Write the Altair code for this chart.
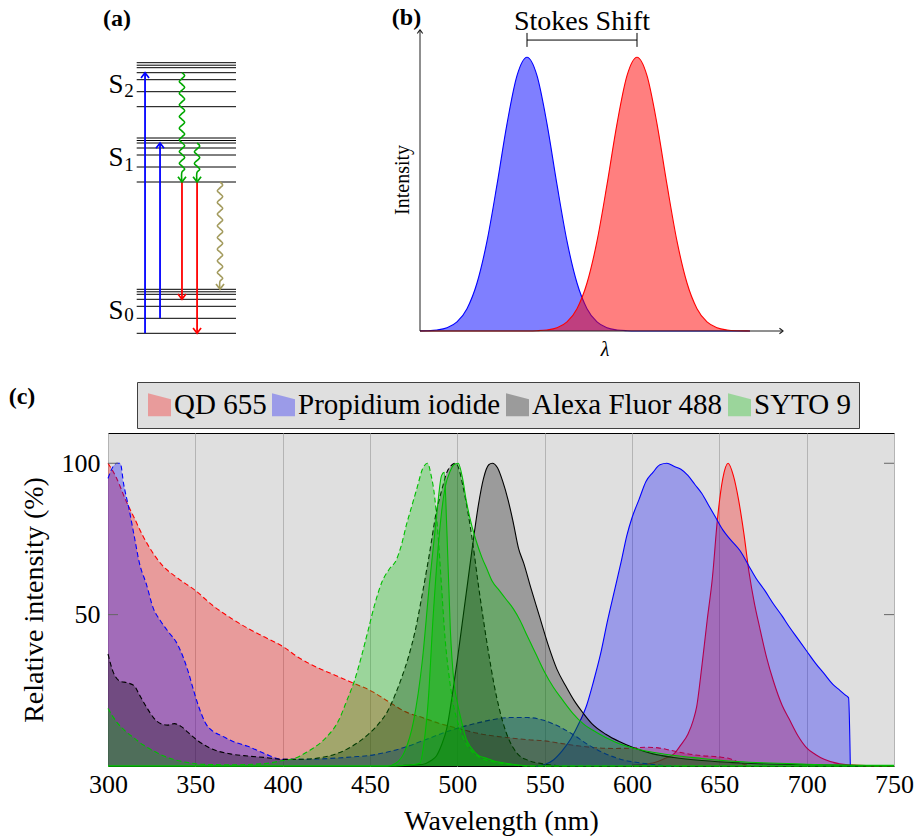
import altair as alt
import pandas as pd

SERIF = "Liberation Serif"

# ---------------- panel (c): spectra ----------------
dye_names = ["QD 655", "Propidium iodide", "Alexa Fluor 488", "SYTO 9"]
dye_colors = ["#ff0000", "#0000ff", "#000000", "#00bf00"]

qd_ex_wl = [300, 305, 310, 315, 320, 325, 330, 340, 350, 360, 370, 380, 390, 400, 410, 420, 430, 440, 450, 460,
            470, 480, 490, 500, 510, 520, 530, 540, 550, 560, 570, 580, 590, 600, 608, 615, 622, 630, 640, 650,
            656, 660, 664, 668]
qd_ex_val = [100, 95, 88, 82, 76, 71, 67, 62, 58, 53, 49, 45.5, 42.5, 39.5, 35.5, 32.5, 30, 27.5, 25, 21.5,
             18, 16, 14, 12.5, 11, 10, 9.3, 8.7, 8.3, 7.4, 6.6, 6.0, 5.8, 5.9, 6.2, 6.0, 5.2, 4.2, 3.4, 3.0,
             2.4, 1.5, 0.6, 0]

qd_em_wl = [600, 612, 620, 624, 628, 632, 635, 637, 640, 643, 646, 649, 652, 655, 658, 661, 664, 667, 670, 673,
            677, 681, 686, 690, 695, 700, 705, 710, 719, 730, 750]
qd_em_val = [0.3, 1, 2.8, 4, 7, 10.5, 15, 19.5, 33, 48, 62, 82, 95, 100, 96, 88, 77, 64, 54, 46,
             36, 28, 20, 15.5, 10, 6, 3.8, 2.2, 0.7, 0.2, 0]

pi_ex_wl = [300, 303, 305, 307, 309, 312, 315, 318, 322, 326, 330, 335, 339, 343, 346, 349, 352, 356, 360, 365,
            372, 380, 390, 400, 410, 420, 430, 440, 450, 460, 470, 480, 490, 500, 510, 520, 530, 540, 550, 560,
            566, 575, 585, 595, 605, 615, 625]
pi_ex_val = [95, 99, 100, 100, 93, 85, 76, 67, 60, 52, 48, 44, 41, 36, 31, 25, 19.5, 14, 11.5, 10,
             8, 6.5, 4, 2.2, 2.2, 2.3, 2.6, 3, 3.5, 4.6, 6.2, 8.3, 10.5, 12.5, 14, 15.3, 16, 16, 15, 12.5,
             10.5, 7, 4, 2, 1, 0.3, 0]

pi_em_wl = [545, 550, 555, 560, 565, 570, 574, 578, 582, 586, 590, 594, 597, 600, 604, 608, 612, 616, 620, 624,
            628, 632, 636, 640, 644, 648, 652, 656, 662, 667, 671, 676, 681, 686, 690, 695, 700, 705, 710, 715,
            719, 722, 724, 725]
pi_em_val = [0, 0.5, 2, 5, 9, 14.5, 20, 28, 37, 48, 58, 68, 76, 82, 88, 94, 97, 99.5, 100, 99,
             98, 96, 93, 90, 86, 82, 78, 75, 71, 66, 62, 58, 53.5, 49.5, 46, 42, 38, 34, 30.5, 27,
             25, 23.5, 22.5, 0]

af_ex_wl = [300, 303, 307, 311, 315, 318, 322, 326, 330, 334, 338, 342, 346, 350, 355, 360, 370, 380, 390, 400,
            410, 420, 430, 440, 450, 455, 460, 464, 468, 472, 476, 480, 484, 488, 491, 494, 497, 499, 501, 503,
            506, 509, 512, 515, 518, 521, 524, 528, 532, 536, 540, 549, 560]
af_ex_val = [37, 31, 28, 27.5, 26.5, 23.5, 19.5, 16, 14, 13.5, 14, 13, 11, 9, 7, 5.5, 4, 3.3, 2.8, 2.2,
             2.2, 2.6, 3.9, 6.6, 11, 14, 18, 23, 29, 36, 45, 57, 70, 84, 91, 97, 99.5, 100, 98, 93,
             84, 73, 60, 48, 37, 27, 19, 11, 6, 3.2, 2, 0.7, 0]

af_em_wl = [465, 470, 480, 485, 488, 491, 494, 497, 500, 503, 506, 509, 512, 515, 518, 520, 523, 526, 529, 532,
            535, 538, 542, 547, 552, 557, 562, 567, 572, 577, 585, 593, 601, 612, 624, 640, 662, 700, 750]
af_em_val = [0, 0.2, 0.5, 1.8, 3.3, 7, 12.5, 23, 35, 48, 61, 74, 86, 95, 99.5, 100, 98.5, 94, 88, 80.5,
             72, 67, 59, 49.5, 40, 32, 26.5, 21.5, 17.5, 14, 10.5, 8, 6, 4, 2.8, 1.8, 1, 0.4, 0]

sy_ex_wl = [300, 305, 310, 315, 320, 326, 332, 338, 345, 353, 370, 390, 400, 405, 415, 425, 432, 437, 441, 445,
            449, 453, 457, 461, 465, 468, 471, 474, 477, 480, 483, 485, 487, 489, 491, 493, 495, 497.5, 501, 506,
            513, 520, 530, 540, 750]
sy_ex_val = [19, 14.5, 11.5, 9.2, 7, 5, 3.3, 2.1, 1.2, 0.6, 0.4, 0.8, 1.8, 2.2, 5, 9.5, 15, 22, 28, 36,
             45, 54, 61, 65, 68, 73, 80, 86, 92, 98, 100, 96, 89, 76, 59, 42, 31, 21, 13, 6.6,
             2.8, 1.5, 0.5, 0, 0]

sy_em_wl = [300, 460, 470, 475, 478.6, 481, 483.4, 486, 489, 491, 493, 496, 498, 500.5, 503, 505, 508, 511, 514,
            517, 520, 524, 528, 532, 536, 540, 545, 550, 555, 560, 566, 572, 580, 590, 600, 620, 640, 660, 700, 750]
sy_em_val = [0, 0, 0.2, 0.5, 1, 8, 22, 48, 72, 84, 92, 97.5, 99.5, 100, 95, 88, 80, 74, 69,
             65, 61, 58, 55, 52, 48, 43, 37, 31, 26, 22, 17.5, 14, 11, 8, 6, 3.8, 2.5, 1.5, 0.6, 0.2]

sy_em2_wl = [300, 460, 465, 470, 475, 480, 484, 488, 491, 492.5, 494, 496, 498, 500, 502.5, 505, 508, 512, 517,
             522, 527, 535, 545, 750]
sy_em2_val = [0, 0, 1, 5, 15, 35, 60, 82, 96, 97, 78, 45, 28, 21, 14.5, 9, 6, 3.5, 2.5,
              1.5, 1, 0.3, 0, 0]

series = [
    ("QD 655", "ex", qd_ex_wl, qd_ex_val),
    ("QD 655", "em", qd_em_wl, qd_em_val),
    ("Propidium iodide", "ex", pi_ex_wl, pi_ex_val),
    ("Propidium iodide", "em", pi_em_wl, pi_em_val),
    ("Alexa Fluor 488", "ex", af_ex_wl, af_ex_val),
    ("Alexa Fluor 488", "em", af_em_wl, af_em_val),
    ("SYTO 9", "ex", sy_ex_wl, sy_ex_val),
    ("SYTO 9", "em", sy_em_wl, sy_em_val),
    ("SYTO 9", "em", sy_em2_wl, sy_em2_val),
]

rows = []
for sid, (dye, kind, wl, val) in enumerate(series):
    for w, v in zip(wl, val):
        rows.append({"sid": sid, "dye": dye, "kind": kind, "wl": w, "val": v})
spec_df = pd.DataFrame(rows)

x_ticks = [300, 350, 400, 450, 500, 550, 600, 650, 700, 750]
y_ticks = [50, 100]

xC = alt.Scale(domain=[300, 750], nice=False, zero=False)
yC = alt.Scale(domain=[0, 110], nice=False, zero=False)
axCx = alt.Axis(values=x_ticks, grid=True, gridColor="#b4b4b4", gridWidth=1, ticks=False, tickSize=0,
                domain=False, labelFont=SERIF, labelFontSize=26, labelColor="black", labelPadding=5,
                title="Wavelength (nm)", titleFont=SERIF, titleFontSize=28, titleFontWeight="normal",
                titleColor="black", titlePadding=10, labelFlush=False)
axCy = alt.Axis(values=y_ticks, grid=False, ticks=False, tickSize=0, domain=False, labelFont=SERIF,
                labelFontSize=26, labelColor="black", labelPadding=8, title="Relative intensity (%)",
                titleFont=SERIF, titleFontSize=28, titleFontWeight="normal", titleColor="black",
                titlePadding=13, labelFlush=False)

ICON = "M-1,-1 L1,-0.48 L1,1 L-1,1 Z"
colC = alt.Color(
    "dye:N",
    scale=alt.Scale(domain=dye_names, range=dye_colors),
    legend=alt.Legend(title=None, orient="none", legendX=29, legendY=-51, direction="horizontal",
                      fillColor="#dfdfdf", strokeColor="#404040", padding=8, labelFont=SERIF,
                      labelFontSize=29, labelColor="black", symbolType=ICON, symbolSize=529,
                      symbolStrokeWidth=0, labelOffset=0, columnPadding=2,
                      labelLimit=400),
)

baseC = alt.Chart(spec_df)
c_layers = []
for sid, (dye, kind, wl, val) in enumerate(series):
    sub = baseC.transform_filter(alt.datum.sid == sid)
    c_layers.append(
        sub.mark_area(opacity=0.3, interpolate="monotone").encode(
            x=alt.X("wl:Q", scale=xC, axis=axCx),
            y=alt.Y("val:Q", scale=yC, axis=axCy, stack=None),
            color=colC,
        )
    )
    line_kw = dict(strokeWidth=1.1, interpolate="monotone", color=dye_colors[dye_names.index(dye)])
    if kind == "ex":
        line_kw["strokeDash"] = [5, 3]
    c_layers.append(
        sub.mark_line(**line_kw).encode(
            x=alt.X("wl:Q", scale=xC, axis=axCx),
            y=alt.Y("val:Q", scale=yC, axis=axCy),
        )
    )

tick_df = pd.DataFrame({"v": y_ticks})
c_layers.append(alt.Chart(tick_df).mark_rule(color="#666666", strokeWidth=1).encode(
    x=alt.value(0), x2=alt.value(10), y=alt.Y("v:Q", scale=yC, axis=axCy)))
c_layers.append(alt.Chart(tick_df).mark_rule(color="#666666", strokeWidth=1).encode(
    x=alt.value(776), x2=alt.value(786), y=alt.Y("v:Q", scale=yC, axis=axCy)))
c_layers.append(alt.Chart(pd.DataFrame({"t": ["(c)"]})).mark_text(
    font=SERIF, fontSize=24, fontWeight="bold", align="center", baseline="middle", color="black").encode(
    x=alt.value(-86), y=alt.value(-36), text="t:N"))

panel_c = alt.layer(*c_layers)

# ---------------- panel (a): Jablonski diagram ----------------
state_base = [0, 151.3, 226.6]          # S0, S1, S2 energies (diagram units)
vib_offsets = [0, 15, 27, 34, 39, 41.5, 44]
state_sub = ["0", "1", "2"]
state_label_E = [22.3, 175.3, 248.3]
state_sub_E = [18.3, 168.3, 242.3]

levels_df = pd.DataFrame([{"E": b + o, "x0": 0, "x1": 100} for b in state_base for o in vib_offsets])

xA = alt.Scale(domain=[0, 100], range=[28.7, 128], nice=False, zero=False)
yA = alt.Scale(domain=[0, 270.6], range=[-99.7, -370.3], nice=False, zero=False)

arrow_x = [8.4, 23.5, 45.6, 60.8]
arrow_e0 = [0, 15, 151.3, 151.3]
arrow_e1 = [260.6, 190.3, 34, 0]
arrow_col = ["#0000ff", "#0000ff", "#ff0000", "#ff0000"]

wavy_x = [45.6, 60.8, 83.9]
wavy_e0 = [260.6, 190.3, 151.3]
wavy_e1 = [151.3, 151.3, 44]
wavy_col = ["#00a800", "#00a800", "#a39b5e"]

arrows_df = pd.DataFrame({"x": arrow_x, "e0": arrow_e0, "e1": arrow_e1, "c": arrow_col})

wave_rows = []
pattern = [0, 1, 0, -1]
amp, quarter, tail = 2.7, 2.92, 5.0
for wid, (x0, e0, e1, col) in enumerate(zip(wavy_x, wavy_e0, wavy_e1, wavy_col)):
    d = -1 if e1 < e0 else 1
    n = int((abs(e1 - e0) - tail) // quarter)
    if n % 2:
        n -= 1
    k = 0
    for i in range(n + 1):
        wave_rows.append({"w": wid, "k": k, "x": x0 + amp * pattern[i % 4], "E": e0 + d * i * quarter, "c": col})
        k += 1
    wave_rows.append({"w": wid, "k": k, "x": x0, "E": e1, "c": col})
wave_df = pd.DataFrame(wave_rows)

heads = []
for x, e0, e1, c in zip(arrow_x, arrow_e0, arrow_e1, arrow_col):
    heads.append({"x": x, "E": e1, "c": c, "up": e1 > e0})
for x, e0, e1, c in zip(wavy_x, wavy_e0, wavy_e1, wavy_col):
    heads.append({"x": x, "E": e1, "c": c, "up": e1 > e0})
heads_df = pd.DataFrame(heads)

UP = "M-1,1.3 Q-0.35,0.45 0,0 Q0.35,0.45 1,1.3"
DOWN = "M-1,-1.3 Q-0.35,-0.45 0,0 Q0.35,-0.45 1,-1.3"
RIGHT = "M-1.3,-1 Q-0.45,-0.35 0,0 Q-0.45,0.35 -1.3,1"

a_layers = [
    alt.Chart(levels_df).mark_rule(color="black", strokeWidth=1).encode(
        x=alt.X("x0:Q", scale=xA, axis=None), x2="x1:Q", y=alt.Y("E:Q", scale=yA, axis=None)),
    alt.Chart(arrows_df).mark_rule(strokeWidth=1.8).encode(
        x=alt.X("x:Q", scale=xA, axis=None), y=alt.Y("e0:Q", scale=yA, axis=None), y2="e1:Q",
        color=alt.Color("c:N", scale=None)),
    alt.Chart(wave_df).mark_line(strokeWidth=1.6, interpolate="catmull-rom").encode(
        x=alt.X("x:Q", scale=xA, axis=None), y=alt.Y("E:Q", scale=yA, axis=None),
        detail="w:N", order="k:Q", color=alt.Color("c:N", scale=None)),
    alt.Chart(heads_df).transform_filter(alt.datum.up).mark_point(
        shape=UP, filled=False, size=64, strokeWidth=1.7, opacity=1).encode(
        x=alt.X("x:Q", scale=xA, axis=None), y=alt.Y("E:Q", scale=yA, axis=None),
        color=alt.Color("c:N", scale=None)),
    alt.Chart(heads_df).transform_filter(~alt.datum.up).mark_point(
        shape=DOWN, filled=False, size=64, strokeWidth=1.7, opacity=1).encode(
        x=alt.X("x:Q", scale=xA, axis=None), y=alt.Y("E:Q", scale=yA, axis=None),
        color=alt.Color("c:N", scale=None)),
    alt.Chart(pd.DataFrame({"t": ["S"] * 3, "E": state_label_E, "x": [-20.8] * 3})).mark_text(
        font=SERIF, fontSize=27, align="center", baseline="middle", color="black").encode(
        x=alt.X("x:Q", scale=xA, axis=None), y=alt.Y("E:Q", scale=yA, axis=None), text="t:N"),
    alt.Chart(pd.DataFrame({"t": state_sub, "E": state_sub_E, "x": [-7.8] * 3})).mark_text(
        font=SERIF, fontSize=19, align="center", baseline="middle", color="black").encode(
        x=alt.X("x:Q", scale=xA, axis=None), y=alt.Y("E:Q", scale=yA, axis=None), text="t:N"),
    alt.Chart(pd.DataFrame({"t": ["(a)"], "E": [314.3], "x": [-19.8]})).mark_text(
        font=SERIF, fontSize=24, fontWeight="bold", align="center", baseline="middle", color="black").encode(
        x=alt.X("x:Q", scale=xA, axis=None), y=alt.Y("E:Q", scale=yA, axis=None), text="t:N"),
]
panel_a = alt.layer(*a_layers)

# ---------------- panel (b): Stokes shift ----------------
b_pos = [0, 7, 17, 27, 37, 47, 57, 67, 77, 87, 97, 107, 117, 127, 137, 147, 157, 167, 177, 187, 197, 207,
         217, 227, 237, 247, 257, 267, 277, 287, 297, 307, 317, 327, 330]
b_blue = [0.0004, 0.001, 0.0036, 0.0116, 0.033, 0.0816, 0.1754, 0.3283, 0.5345, 0.7569, 0.9328, 1.0,
          0.9328, 0.7569, 0.5345, 0.3283, 0.1754, 0.0816, 0.033, 0.0116, 0.0036, 0.001, 0.0002,
          0, 0, 0, 0, 0, 0, 0, 0, 0, 0, 0, 0]
b_red = [0, 0, 0, 0, 0, 0, 0, 0, 0, 0, 0, 0.0002, 0.001, 0.0036, 0.0116, 0.033, 0.0816, 0.1754, 0.3283,
         0.5345, 0.7569, 0.9328, 1.0, 0.9328, 0.7569, 0.5345, 0.3283, 0.1754, 0.0816, 0.033, 0.0116,
         0.0036, 0.001, 0.0003, 0.0002]
b_df = pd.DataFrame({"p": b_pos, "blue": b_blue, "red": b_red})

xB = alt.Scale(domain=[0, 363], range=[312, 675], nice=False, zero=False)
yB = alt.Scale(domain=[0, 1], range=[-102, -375.7], nice=False, zero=False)

axis_len_x = 363
axis_len_y = 1.1
peak_pos = [107, 217]
bracket_y = 1.063

bx = alt.X("p:Q", scale=xB, axis=None)
b_layers = []
for col, hexc in [("blue", "#0000ff"), ("red", "#ff0000")]:
    b_layers.append(alt.Chart(b_df).mark_area(color=hexc, fillOpacity=0.5, interpolate="monotone").encode(
        x=bx, y=alt.Y(f"{col}:Q", scale=yB, axis=None)))
    b_layers.append(alt.Chart(b_df).mark_line(color=hexc, strokeWidth=1.1, interpolate="monotone").encode(
        x=bx, y=alt.Y(f"{col}:Q", scale=yB, axis=None)))

axes_df = pd.DataFrame({"x0": [0, 0], "x1": [0, axis_len_x], "y0": [0, 0], "y1": [axis_len_y, 0]})
b_layers.append(alt.Chart(axes_df).mark_rule(color="#202020", strokeWidth=1).encode(
    x=alt.X("x0:Q", scale=xB, axis=None), x2="x1:Q", y=alt.Y("y0:Q", scale=yB, axis=None), y2="y1:Q"))
b_layers.append(alt.Chart(pd.DataFrame({"p": [0], "v": [axis_len_y]})).mark_point(
    shape=UP, filled=False, size=30, strokeWidth=1.1, color="#202020", opacity=1).encode(
    x=alt.X("p:Q", scale=xB, axis=None), y=alt.Y("v:Q", scale=yB, axis=None)))
b_layers.append(alt.Chart(pd.DataFrame({"p": [axis_len_x], "v": [0]})).mark_point(
    shape=RIGHT, filled=False, size=30, strokeWidth=1.1, color="#202020", opacity=1).encode(
    x=alt.X("p:Q", scale=xB, axis=None), y=alt.Y("v:Q", scale=yB, axis=None)))

bracket_df = pd.DataFrame({"p0": [peak_pos[0]], "p1": [peak_pos[1]], "v": [bracket_y]})
b_layers.append(alt.Chart(bracket_df).mark_rule(color="black", strokeWidth=1).encode(
    x=alt.X("p0:Q", scale=xB, axis=None), x2="p1:Q", y=alt.Y("v:Q", scale=yB, axis=None)))
ticks_df = pd.DataFrame({"p": peak_pos, "v0": [1.038, 1.038], "v1": [1.089, 1.089]})
b_layers.append(alt.Chart(ticks_df).mark_rule(color="black", strokeWidth=1).encode(
    x=alt.X("p:Q", scale=xB, axis=None), y=alt.Y("v0:Q", scale=yB, axis=None), y2="v1:Q"))

b_text = pd.DataFrame({"t": ["Stokes Shift"], "p": [162], "v": [1.129]})
b_layers.append(alt.Chart(b_text).mark_text(font=SERIF, fontSize=28, align="center", baseline="middle",
                                            color="black").encode(
    x=alt.X("p:Q", scale=xB, axis=None), y=alt.Y("v:Q", scale=yB, axis=None), text="t:N"))
b_layers.append(alt.Chart(pd.DataFrame({"t": ["(b)"], "p": [-13.5], "v": [1.1436]})).mark_text(
    font=SERIF, fontSize=24, fontWeight="bold", align="center", baseline="middle", color="black").encode(
    x=alt.X("p:Q", scale=xB, axis=None), y=alt.Y("v:Q", scale=yB, axis=None), text="t:N"))
b_layers.append(alt.Chart(pd.DataFrame({"t": ["Intensity"], "p": [-17], "v": [0.552]})).mark_text(
    font=SERIF, fontSize=20, angle=270, align="center", baseline="middle", color="black").encode(
    x=alt.X("p:Q", scale=xB, axis=None), y=alt.Y("v:Q", scale=yB, axis=None), text="t:N"))
b_layers.append(alt.Chart(pd.DataFrame({"t": ["λ"], "p": [185], "v": [-0.069]})).mark_text(
    font=SERIF, fontSize=20, fontStyle="italic", align="center", baseline="middle", color="black").encode(
    x=alt.X("p:Q", scale=xB, axis=None), y=alt.Y("v:Q", scale=yB, axis=None), text="t:N"))

panel_b = alt.layer(*b_layers)

chart = alt.layer(panel_c, panel_a, panel_b).resolve_scale(
    x="independent", y="independent"
).properties(
    width=786, height=333,
    autosize=alt.AutoSizeParams(type="none"),
    padding={"left": 108, "top": 433, "right": 25, "bottom": 73},
).configure(
    font=SERIF
).configure_axis(
    labelFont=SERIF, titleFont=SERIF, labelColor="black", titleColor="black", titleFontWeight="normal"
).configure_legend(
    labelFont=SERIF, labelColor="black"
).configure_view(fill="#dfdfdf", stroke="black", strokeWidth=1)

chart.save("out.html", embed_options={"renderer": "svg", "actions": False})
